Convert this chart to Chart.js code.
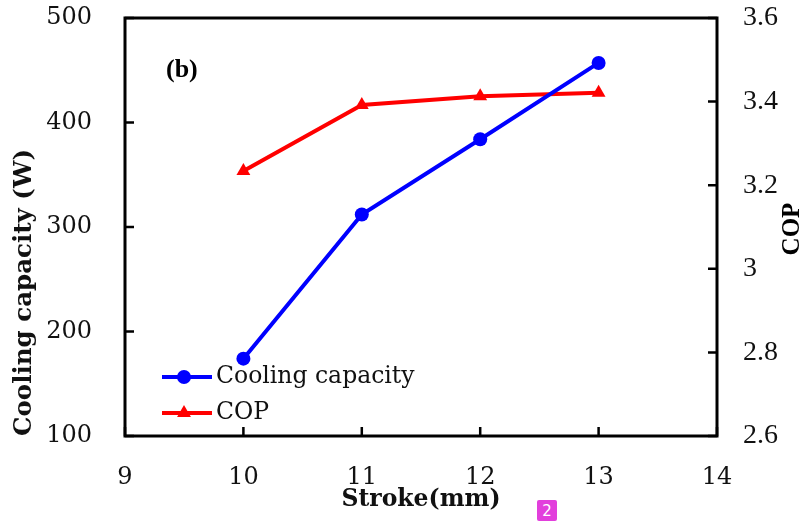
<!DOCTYPE html>
<html>
<head>
<meta charset="utf-8">
<script src="https://cdn.jsdelivr.net/npm/chart.js@4"></script>
<style>
  body { margin: 0; background: #fff; }
  #wrap { position: relative; width: 811px; height: 521px; }
  #badge {
    position: absolute; left: 537px; top: 500px; width: 20px; height: 21px;
    background: #e23fdc; color: #fff; font: 15px "DejaVu Sans", sans-serif;
    text-align: center; line-height: 22px; border-radius: 2px;
  }
</style>
</head>
<body>
<div id="wrap">
  <canvas id="chart" width="811" height="521"></canvas>
  <div id="badge">2</div>
</div>
<script>
// data ---------------------------------------------------------------
const stroke = [10, 11, 12, 13];
const coolingCapacity = [174, 312, 384, 457];
const cop = [3.234, 3.392, 3.413, 3.421];

const xTicks = [9, 10, 11, 12, 13, 14];
const leftTicks = [100, 200, 300, 400, 500];
const rightTicks = [2.6, 2.8, 3.0, 3.2, 3.4, 3.6];

const BLUE = '#0000ff';
const RED = '#ff0000';


// frame, inward ticks, legend, extra labels
const decoPlugin = {
    id: 'deco',
    afterDraw(chart) {
        const ctx = chart.ctx;
        const a = chart.chartArea;
        const sx = chart.scales.x, sy = chart.scales.y, sy1 = chart.scales.y1;
        ctx.save();
        ctx.strokeStyle = '#000';
        ctx.lineWidth = 3;
        ctx.strokeRect(a.left, a.top, a.right - a.left, a.bottom - a.top);

        ctx.lineWidth = 2.5;
        ctx.beginPath();
        xTicks.forEach(v => {
            let px = sx.getPixelForValue(v);
            ctx.moveTo(px, a.bottom); ctx.lineTo(px, a.bottom - 9);
        });
        leftTicks.forEach(v => {
            let py = sy.getPixelForValue(v);
            ctx.moveTo(a.left, py); ctx.lineTo(a.left + 9, py);
        });
        rightTicks.forEach(v => {
            let py = sy1.getPixelForValue(v);
            ctx.moveTo(a.right, py); ctx.lineTo(a.right - 9, py);
        });
        ctx.stroke();

        // legend (line + marker like excel)
        const rows = [
            { ds: chart.data.datasets[0], y: 377 },
            { ds: chart.data.datasets[1], y: 413 }
        ];
        rows.forEach(r => {
            ctx.strokeStyle = r.ds.borderColor;
            ctx.lineWidth = 4;
            ctx.beginPath();
            ctx.moveTo(162, r.y); ctx.lineTo(212, r.y);
            ctx.stroke();
            ctx.fillStyle = r.ds.pointBackgroundColor;
            Chart.helpers.drawPoint(ctx, {
                pointStyle: r.ds.pointStyle, radius: r.ds.pointRadius,
                rotation: 0, borderWidth: 0
            }, 184, r.y);
            ctx.fillStyle = '#111';
            ctx.font = '23.5px "DejaVu Serif"';
            ctx.textAlign = 'left';
            ctx.textBaseline = 'middle';
            ctx.fillText(r.ds.label, 216, r.y);
        });

        // panel label
        ctx.fillStyle = '#000';
        ctx.font = 'bold 26px "Liberation Serif"';
        ctx.textAlign = 'left';
        ctx.textBaseline = 'middle';
        ctx.fillText('(b)', 166, 70);

        // right axis title reads bottom-to-top
        ctx.translate(793, 229);
        ctx.rotate(-Math.PI / 2);
        ctx.font = 'bold 25px "Liberation Serif"';
        ctx.textAlign = 'center';
        ctx.fillText('COP', 0, 0);
        ctx.restore();
    }
};

function noPad(s) {
    s.paddingTop = 0; s.paddingBottom = 0;
    s.paddingLeft = 0; s.paddingRight = 0;
}


const ctx = document.getElementById('chart').getContext('2d');
new Chart(ctx, {
    type: 'line',
    data: {
        datasets: [{
            label: 'Cooling capacity',
            data: stroke.map((s, i) => ({ x: s, y: coolingCapacity[i] })),
            yAxisID: 'y',
            borderColor: BLUE,
            backgroundColor: BLUE,
            pointBackgroundColor: BLUE,
            pointBorderWidth: 0,
            pointStyle: 'circle',
            pointRadius: 7,
            borderWidth: 4,
            tension: 0
        }, {
            label: 'COP',
            data: stroke.map((s, i) => ({ x: s, y: cop[i] })),
            yAxisID: 'y1',
            borderColor: RED,
            backgroundColor: RED,
            pointBackgroundColor: RED,
            pointBorderWidth: 0,
            pointStyle: 'triangle',
            pointRadius: 8,
            borderWidth: 4,
            tension: 0
        }]
    },
    options: {
        responsive: false,
        animation: false,
        layout: { padding: { top: 18, left: 0, right: 0, bottom: 0 } },
        plugins: { legend: { display: false }, tooltip: { enabled: false } },
        scales: {
            x: {
                type: 'linear', position: 'bottom', min: 9, max: 14,
                afterBuildTicks: s => { s.ticks = xTicks.map(v => ({ value: v })); },
                afterFit: s => { s.height = 85; noPad(s); },
                grid: { display: false, drawTicks: false },
                border: { display: false },
                ticks: { padding: 27, color: '#111', font: { family: 'DejaVu Serif', size: 24 } },
                title: {
                    display: true, text: 'Stroke(mm)', color: '#111',
                    font: { family: 'DejaVu Serif', size: 23.5, weight: 'bold' },
                    padding: { top: 0, bottom: 7 }
                }
            },
            y: {
                type: 'linear', position: 'left', min: 100, max: 500,
                afterBuildTicks: s => { s.ticks = leftTicks.map(v => ({ value: v })); },
                afterFit: s => { s.width = 125; noPad(s); },
                grid: { display: false, drawTicks: false },
                border: { display: false },
                ticks: { padding: 33, color: '#111', font: { family: 'DejaVu Serif', size: 24 } },
                title: {
                    display: true, text: 'Cooling capacity (W)', align: 'start', color: '#111',
                    font: { family: 'DejaVu Serif', size: 24.5, weight: 'bold' },
                    padding: { top: 10, bottom: 0 }
                }
            },
            y1: {
                type: 'linear', position: 'right', min: 2.6, max: 3.6,
                afterBuildTicks: s => { s.ticks = rightTicks.map(v => ({ value: v })); },
                afterFit: s => { s.width = 94; noPad(s); },
                grid: { display: false, drawTicks: false },
                border: { display: false },
                ticks: {
                    padding: 26, color: '#111',
                    font: { family: 'Liberation Serif', size: 28 },
                    callback: v => String(Math.round(v * 10) / 10)
                }
            }
        }
    },
    plugins: [decoPlugin]
});
</script>
</body>
</html>
